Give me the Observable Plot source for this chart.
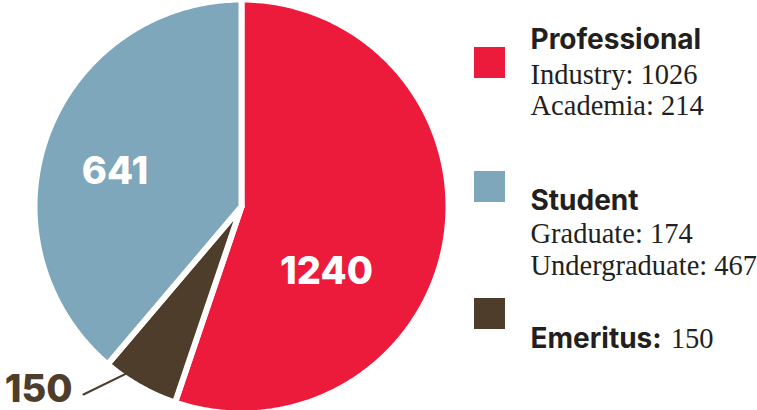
<!DOCTYPE html>
<html>
<head>
<meta charset="utf-8">
<script src="https://cdn.jsdelivr.net/npm/d3@7"></script>
<script src="https://cdn.jsdelivr.net/npm/@observablehq/plot@0.6"></script>
<style>
  body { margin: 0; background: #fff; }
  #chart { width: 757px; height: 410px; }
</style>
</head>
<body>
<div id="chart"></div>
<script>
// ---- data ----
const groups = ["Professional", "Emeritus", "Student"];          // clockwise from 12 o'clock
const totals = [1240, 150, 641];
const sliceShare = [55.2, 6.0, 38.8];                            // % of the circle as drawn
const groupColors = ["#ED1B3B", "#4E3D2A", "#7FA7BC"];
const legendOrder = ["Professional", "Student", "Emeritus"];
const subLabels = ["Industry", "Academia", "Graduate", "Undergraduate"];
const subValues = [1026, 214, 174, 467];
const subGroup = ["Professional", "Professional", "Student", "Student"];

// ---- layout ----
const W = 757, H = 410;
const cx = 241, cy = 206, R = 207;
const ink = "#231f20";
const sansBold = "Inter, Lato, sans-serif";
const serif = "'Liberation Serif', 'DejaVu Serif', serif";

// pie geometry from the data
const pie = d3.pie().sort(null).value(d => d.share).startAngle(0).endAngle(2 * Math.PI);
const slices = pie(groups.map((g, i) => ({ key: g, share: sliceShare[i], total: totals[i] })));
const pts = [];
for (const s of slices) {
  pts.push({ key: s.data.key, x: cx, y: cy });
  const n = Math.max(2, Math.ceil((s.endAngle - s.startAngle) / (Math.PI / 360)));
  for (let k = 0; k <= n; k++) {
    const a = s.startAngle + (s.endAngle - s.startAngle) * k / n;
    pts.push({ key: s.data.key, x: cx + R * Math.sin(a), y: cy - R * Math.cos(a) });
  }
  pts.push({ key: s.data.key, x: cx, y: cy });
}

// in-slice labels
const inLabelPos = { Professional: [326, 283], Student: [114.5, 183] };
const inLabels = slices.filter(s => inLabelPos[s.data.key]).map(s => ({
  text: String(s.data.total), x: inLabelPos[s.data.key][0], y: inLabelPos[s.data.key][1]
}));
// outside label for the small slice, with leader
const emer = slices.find(s => s.data.key === "Emeritus");
const emMid = (emer.startAngle + emer.endAngle) / 2;
const leader = [
  { x: cx + 0.85 * R * Math.sin(emMid), y: cy - 0.85 * R * Math.cos(emMid) },
  { x: 83, y: 394 }
];
const outLabel = [{ text: String(emer.data.total), x: 72, y: 401 }];

// legend layout
const swatchTop = { Professional: 47, Student: 171, Emeritus: 298 };
const headBase = { Professional: 48, Student: 209, Emeritus: 347 };
const subBase = [83, 114, 242, 274];
const colorOf = g => groupColors[groups.indexOf(g)];

const swatches = legendOrder.map(g => ({ key: g, x1: 474, x2: 505, y1: swatchTop[g], y2: swatchTop[g] + 31 }));
const heads = legendOrder.map(g => ({ key: g, text: g === "Emeritus" ? g + ":" : g, x: 530, y: headBase[g] }));
const subs = subLabels.map((l, i) => ({ text: `${l}: ${subValues[i]}`, x: 530, y: subBase[i] }));

// measure "Emeritus:" width to place its value
const headSize = 28, headWeight = 700;
const ctx = document.createElement("canvas").getContext("2d");
ctx.font = `${headWeight} ${headSize}px ${sansBold}`;
const emW = ctx.measureText("Emeritus:").width;
const emVal = [{ text: String(totals[groups.indexOf("Emeritus")]), x: 530 + emW + 9, y: headBase.Emeritus }];

const chart = Plot.plot({
  width: W, height: H,
  margin: 0,
  x: { domain: [0, W], range: [0, W], axis: null },
  y: { domain: [0, H], range: [0, H], axis: null },
  color: { domain: groups, range: groupColors },
  style: { background: "#fff" },
  marks: [
    Plot.line(pts, { x: "x", y: "y", z: "key", fill: "key", stroke: "white", strokeWidth: 6, strokeLinejoin: "round" }),
    Plot.line(leader, { x: "x", y: "y", stroke: colorOf("Emeritus"), strokeWidth: 2 }),
    Plot.text(inLabels, { x: "x", y: "y", text: "text", fill: "white", fontSize: 38, fontWeight: 800, fontFamily: sansBold, lineAnchor: "bottom", textAnchor: "middle" }),
    Plot.text(outLabel, { x: "x", y: "y", text: "text", fill: colorOf("Emeritus"), fontSize: 38, fontWeight: 800, fontFamily: sansBold, lineAnchor: "bottom", textAnchor: "end" }),
    Plot.rect(swatches, { x1: "x1", x2: "x2", y1: "y1", y2: "y2", fill: "key" }),
    Plot.text(heads, { x: "x", y: "y", text: "text", fill: ink, fontSize: headSize, fontWeight: headWeight, fontFamily: sansBold, lineAnchor: "bottom", textAnchor: "start" }),
    Plot.text(subs, { x: "x", y: "y", text: "text", fill: ink, fontSize: 28.5, fontFamily: serif, lineAnchor: "bottom", textAnchor: "start" }),
    Plot.text(emVal, { x: "x", y: "y", text: "text", fill: ink, fontSize: 28.5, fontFamily: serif, lineAnchor: "bottom", textAnchor: "start" })
  ]
});
document.getElementById("chart").appendChild(chart);
</script>
</body>
</html>
